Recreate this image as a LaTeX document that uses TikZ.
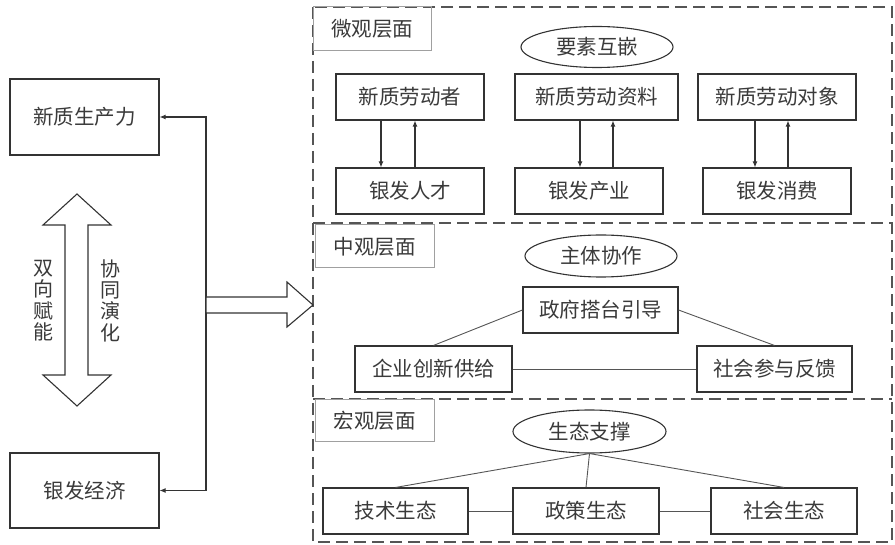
\documentclass[tikz,border=0pt]{standalone}
\usepackage{fontspec}
\setmainfont{Noto Sans CJK SC}
\usetikzlibrary{calc,arrows.meta,shapes.geometric}
\definecolor{linec}{HTML}{333333}
\definecolor{txtc}{HTML}{3A3A3A}
\definecolor{labc}{HTML}{A0A0A0}
\definecolor{dashc}{HTML}{555555}
\definecolor{connc}{HTML}{555555}
\newcommand\myfs{\fontsize{20.5}{24}\selectfont}
\tikzset{
  box/.style={draw=linec, line width=1.1pt, minimum height=46pt, inner sep=0pt, font=\myfs, text=txtc},
  labbox/.style={draw=labc, line width=1pt, inner sep=0pt, font=\myfs, text=txtc},
  ellbox/.style={ellipse, draw=linec, line width=1.1pt, inner sep=0pt, font=\myfs, text=txtc},
  conn/.style={draw=connc, line width=0.9pt},
  arr/.style={draw=linec, line width=1.1pt, -{Latex[length=6pt,width=5pt]}},
  panel/.style={draw=dashc, line width=1.2pt, dash pattern=on 12pt off 6pt},
  fat/.style={draw=linec, line width=1.1pt, fill=white, line join=miter},
  vtext/.style={font=\fontsize{20}{21.3}\selectfont, text=txtc, align=center, inner sep=0pt}
}
\begin{document}
\begin{tikzpicture}[x=1pt,y=-1pt]
\useasboundingbox (0,0) rectangle (895,545);
% panels
\draw[panel] (313,7) rectangle (892,542);
\draw[panel] (313,223) -- (892,223);
\draw[panel] (313,399) -- (892,399);
% left side
\node[box, minimum width=149pt, minimum height=76pt] (np) at (84.5,117) {新质生产力};
\node[box, minimum width=149pt, minimum height=75pt] (ye) at (84.5,490.5) {银发经济};
\coordinate (jn) at (206,305);
\draw[arr] (jn) |- (np.east);
\draw[arr] (jn) |- (ye.east);
\draw[fat] (77,194) -- (111,225) -- (88,225) -- (88,375) -- (111,375) -- (77,406) -- (43,375) -- (65,375) -- (65,225) -- (43,225) -- cycle;
\node[vtext] (v1) at (43,300.5) {双\\向\\赋\\能};
\node[vtext] (v2) at (110.5,300.5) {协\\同\\演\\化};
\draw[fat] (206,297) -- (287,297) -- (287,282) -- (313,305) -- (287,327) -- (287,313) -- (206,313) -- cycle;
% micro
\node[labbox, minimum width=118pt, minimum height=44pt] (lab1) at (372,29) {微观层面};
\node[ellbox, minimum width=152pt, minimum height=41pt] (ell1) at (597,47) {要素互嵌};
\node[box, minimum width=148pt] (a1) at (410,97) {新质劳动者};
\node[box, minimum width=148pt] (b1) at (410,191) {银发人才};
\node[box, minimum width=163pt] (a2) at (596.5,97) {新质劳动资料};
\node[box, minimum width=148pt] (b2) at (589,191) {银发产业};
\node[box, minimum width=158pt] (a3) at (777,97) {新质劳动对象};
\node[box, minimum width=148pt] (b3) at (777,191) {银发消费};
\draw[arr] ($(a1.south)+(-29,0)$) -- ($(b1.north)+(-29,0)$);
\draw[arr] ($(b1.north)+(5,0)$) -- ($(a1.south)+(5,0)$);
\draw[arr] ($(a2.south)+(-16.5,0)$) -- ($(b2.north)+(-9,0)$);
\draw[arr] ($(b2.north)+(24,0)$) -- ($(a2.south)+(16.5,0)$);
\draw[arr] ($(a3.south)+(-22,0)$) -- ($(b3.north)+(-22,0)$);
\draw[arr] ($(b3.north)+(11,0)$) -- ($(a3.south)+(11,0)$);
% meso
\node[labbox, minimum width=119pt, minimum height=43pt] (lab2) at (374.5,246.5) {中观层面};
\node[ellbox, minimum width=152pt, minimum height=42pt] (ell2) at (601,256) {主体协作};
\node[box, minimum width=155pt] (g) at (600.5,310) {政府搭台引导};
\node[box, minimum width=157pt] (e) at (433.5,369) {企业创新供给};
\node[box, minimum width=155pt] (s) at (774.5,369) {社会参与反馈};
\draw[conn] (g.west) -- (e.north);
\draw[conn] (g.east) -- (s.north);
\draw[conn] (e.east) -- (s.west);
% macro
\node[labbox, minimum width=119pt, minimum height=42pt] (lab3) at (374.5,421) {宏观层面};
\node[ellbox, minimum width=153pt, minimum height=43pt] (ell3) at (589.5,431.5) {生态支撑};
\node[box, minimum width=145pt] (t) at (395.5,511) {技术生态};
\node[box, minimum width=146pt] (p) at (586,511) {政策生态};
\node[box, minimum width=146pt] (so) at (784,511) {社会生态};
\draw[conn] (ell3.south) -- (t.north);
\draw[conn] (ell3.south) -- (p.north);
\draw[conn] (ell3.south) -- (so.north);
\draw[conn] (t.east) -- (p.west);
\draw[conn] (p.east) -- (so.west);
\end{tikzpicture}
\end{document}
